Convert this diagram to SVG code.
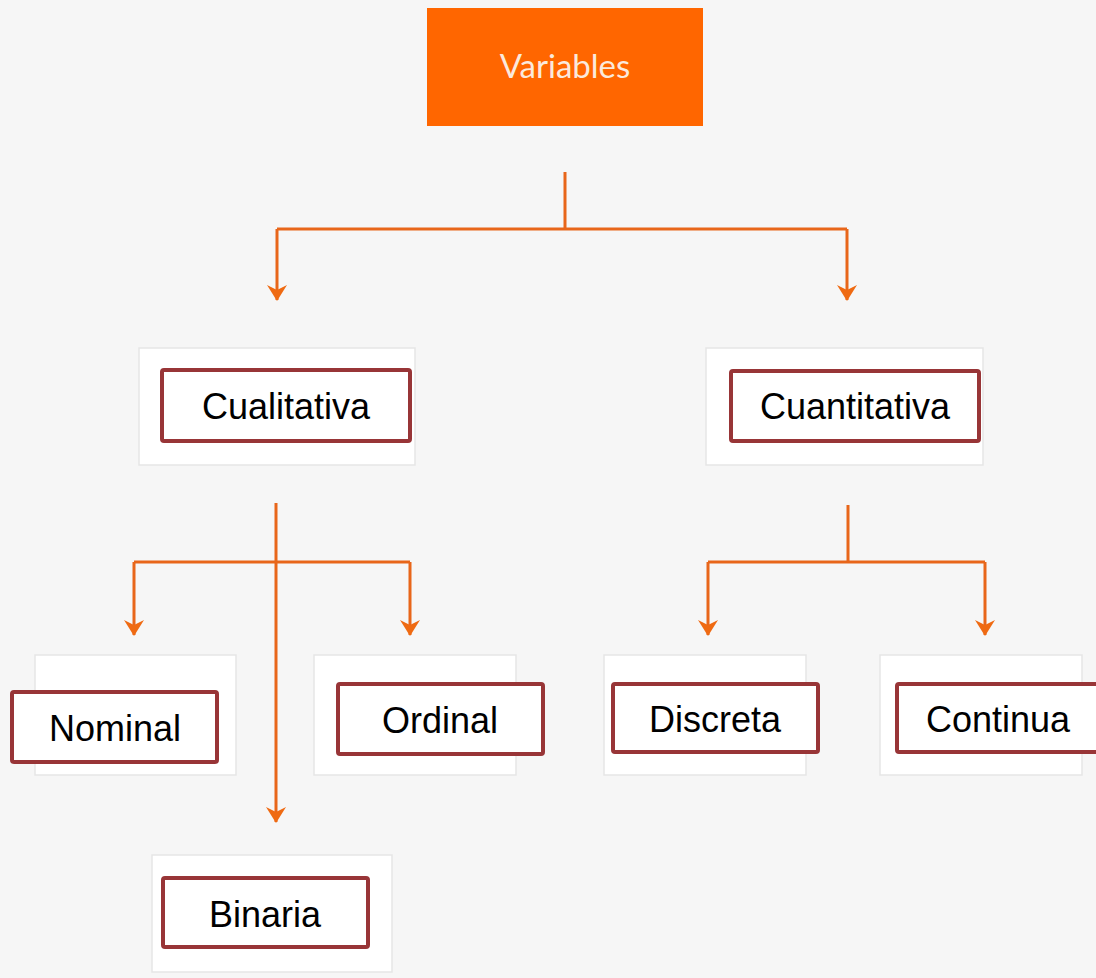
<svg xmlns="http://www.w3.org/2000/svg" width="1096" height="978" viewBox="0 0 1096 978">
<defs>
<style>
.card{fill:#ffffff;stroke:#e6e6e6;stroke-width:1.5}
.box{fill:#ffffff;stroke:#983537;stroke-width:4}
.lbl{font-family:"Liberation Sans",Arial,sans-serif;font-size:36px;fill:#000;text-anchor:middle}
.conn{fill:none;stroke:#e8661a;stroke-width:3}
</style>
<marker id="ah" viewBox="0 0 20 20" refX="19" refY="10" markerWidth="20" markerHeight="20" markerUnits="userSpaceOnUse" orient="auto">
<path d="M4,0 L9,10 L4,20 L20,10 Z" fill="#ef6a12"/>
</marker>
</defs>
<rect width="1096" height="978" fill="#f6f6f6"/>
<g id="connectors">
<path class="conn" d="M565,172 V229"/>
<path class="conn" d="M277,229 H847"/>
<path class="conn" d="M277,229 V300" marker-end="url(#ah)"/>
<path class="conn" d="M847,229 V300" marker-end="url(#ah)"/>
<path class="conn" d="M134,562 H410"/>
<path class="conn" d="M134,562 V635" marker-end="url(#ah)"/>
<path class="conn" d="M410,562 V635" marker-end="url(#ah)"/>
<path class="conn" d="M276,503 V822" marker-end="url(#ah)"/>
<path class="conn" d="M848,505 V562"/>
<path class="conn" d="M708,562 H985"/>
<path class="conn" d="M708,562 V635" marker-end="url(#ah)"/>
<path class="conn" d="M985,562 V635" marker-end="url(#ah)"/>
</g>
<g id="variables">
<rect x="427" y="8" width="276" height="118" fill="#ff6600"/>
<text x="565" y="78" font-family="Lato,'Open Sans',sans-serif" font-size="33" fill="#fbe9dc" text-anchor="middle">Variables</text>
</g>
<g id="cualitativa">
<rect class="card" x="139" y="348" width="276" height="117"/>
<rect class="box" x="162" y="370" width="248" height="71" rx="2"/>
<text class="lbl" x="286" y="419">Cualitativa</text>
</g>
<g id="cuantitativa">
<rect class="card" x="706" y="348" width="277" height="117"/>
<rect class="box" x="731" y="371" width="248" height="70" rx="2"/>
<text class="lbl" x="855" y="419">Cuantitativa</text>
</g>
<g id="nominal">
<rect class="card" x="35" y="655" width="201" height="120"/>
<rect class="box" x="12" y="692" width="205" height="70" rx="2"/>
<text class="lbl" x="115" y="741">Nominal</text>
</g>
<g id="ordinal">
<rect class="card" x="314" y="655" width="202" height="120"/>
<rect class="box" x="338" y="684" width="205" height="70" rx="2"/>
<text class="lbl" x="440" y="733">Ordinal</text>
</g>
<g id="discreta">
<rect class="card" x="604" y="655" width="202" height="120"/>
<rect class="box" x="613" y="684" width="205" height="68" rx="2"/>
<text class="lbl" x="715" y="732">Discreta</text>
</g>
<g id="continua">
<rect class="card" x="880" y="655" width="202" height="120"/>
<rect class="box" x="897" y="684" width="201" height="68" rx="2"/>
<text class="lbl" x="998" y="732">Continua</text>
</g>
<g id="binaria">
<rect class="card" x="152" y="855" width="240" height="117"/>
<rect class="box" x="163" y="878" width="205" height="69" rx="2"/>
<text class="lbl" x="265" y="927">Binaria</text>
</g>
</svg>
